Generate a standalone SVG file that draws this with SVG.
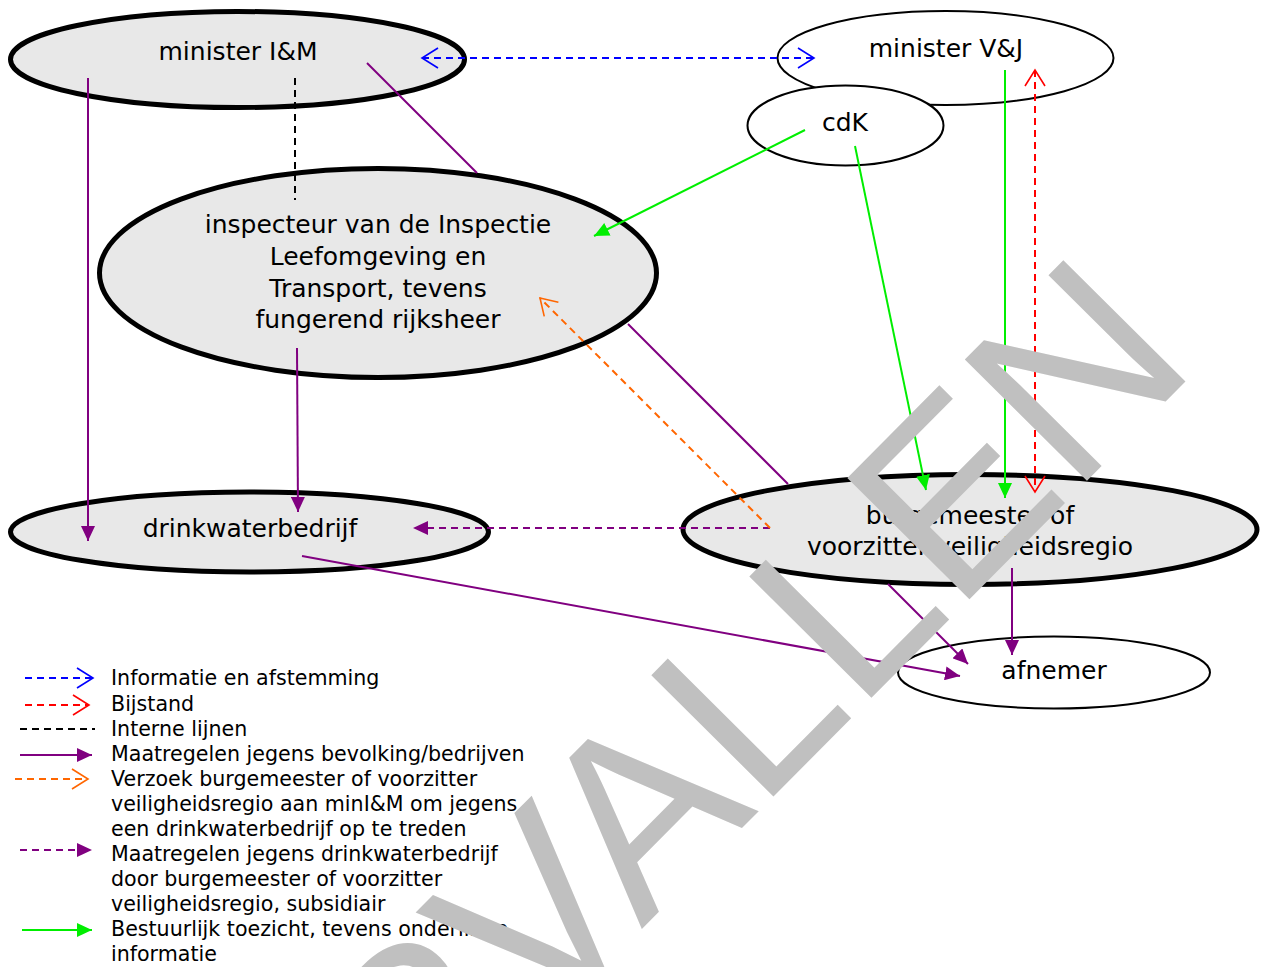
<svg xmlns="http://www.w3.org/2000/svg" width="1263" height="967" viewBox="0 0 1263 967">
<style>
.bold{fill:#e8e8e8;stroke:#000;stroke-width:5}
.thin{fill:#fff;stroke:#000;stroke-width:2}
.nt{font-family:"DejaVu Sans",Verdana,sans-serif;font-size:25px;fill:#000;text-anchor:middle}
.lt{font-family:"DejaVu Sans",Verdana,sans-serif;font-size:20.6px;fill:#000}
.c{fill:none;stroke-width:2}
.dash{stroke-dasharray:7 5}
.pur{stroke:#800080}
.grn{stroke:#00ee00}
.blu{stroke:#0000ff}
.red{stroke:#ff0000}
.org{stroke:#ff6600}
.blk{stroke:#000}
.wm{font-family:"Liberation Sans",Arial,sans-serif;font-size:250px;fill:#c0c0c0}
</style>
<defs>
<marker id="fp" markerUnits="userSpaceOnUse" markerWidth="16" markerHeight="14" refX="15" refY="7" orient="auto"><path d="M0,0 L15,7 L0,14 Z" fill="#800080"/></marker>
<marker id="fg" markerUnits="userSpaceOnUse" markerWidth="16" markerHeight="14" refX="15" refY="7" orient="auto"><path d="M0,0 L15,7 L0,14 Z" fill="#00ee00"/></marker>
<marker id="ob" markerUnits="userSpaceOnUse" markerWidth="20" markerHeight="24" refX="18" refY="12" orient="auto-start-reverse"><path d="M2,2 L18,12 L2,22" fill="none" stroke="#0000ff" stroke-width="1.6"/></marker>
<marker id="or" markerUnits="userSpaceOnUse" markerWidth="20" markerHeight="24" refX="18" refY="12" orient="auto-start-reverse"><path d="M2,2 L18,12 L2,22" fill="none" stroke="#ff0000" stroke-width="1.6"/></marker>
<marker id="oo" markerUnits="userSpaceOnUse" markerWidth="20" markerHeight="24" refX="18" refY="12" orient="auto-start-reverse"><path d="M2,2 L18,12 L2,22" fill="none" stroke="#ff6600" stroke-width="1.6"/></marker>
</defs>
<rect width="1263" height="967" fill="#fff"/>

<g id="node-minister-IM"><ellipse class="bold" cx="237.5" cy="59.5" rx="227" ry="48"/><text class="nt" x="238" y="60">minister I&amp;M</text></g>
<g id="node-minister-VJ"><ellipse class="thin" cx="945.5" cy="58" rx="168" ry="47"/><text class="nt" x="946" y="57">minister V&amp;J</text></g>
<g id="node-cdK"><ellipse class="thin" cx="845.5" cy="125.5" rx="98" ry="40"/><text class="nt" x="845" y="131">cdK</text></g>
<g id="node-inspecteur"><ellipse class="bold" cx="378" cy="273" rx="278.5" ry="104.5"/>
<text class="nt" x="378" y="233">inspecteur van de Inspectie</text>
<text class="nt" x="378" y="265">Leefomgeving en</text>
<text class="nt" x="378" y="297">Transport, tevens</text>
<text class="nt" x="378" y="328">fungerend rijksheer</text></g>
<g id="node-drinkwaterbedrijf"><ellipse class="bold" cx="249.5" cy="532" rx="239" ry="40"/><text class="nt" x="250" y="537">drinkwaterbedrijf</text></g>
<g id="node-burgemeester"><ellipse class="bold" cx="970" cy="529.5" rx="287" ry="55"/>
<text class="nt" x="970" y="524">burgemeester of</text>
<text class="nt" x="970" y="555">voorzitter veiligheidsregio</text></g>
<g id="node-afnemer"><ellipse class="thin" cx="1054" cy="672.5" rx="156" ry="36"/><text class="nt" x="1054" y="679">afnemer</text></g>

<g id="connectors">
<line class="c dash blu" x1="422" y1="58" x2="814" y2="58" marker-start="url(#ob)" marker-end="url(#ob)"/>
<line class="c dash blk" x1="295" y1="78" x2="295" y2="200"/>
<line class="c pur" x1="367" y1="63" x2="477" y2="173"/>
<line class="c pur" x1="628" y1="324" x2="788" y2="484"/>
<line class="c pur" x1="888" y1="584" x2="968" y2="664" marker-end="url(#fp)"/>
<line class="c pur" x1="88" y1="78" x2="88" y2="541" marker-end="url(#fp)"/>
<line class="c pur" x1="297" y1="348" x2="298" y2="512" marker-end="url(#fp)"/>
<line class="c pur" x1="302" y1="556" x2="960" y2="676" marker-end="url(#fp)"/>
<line class="c pur" x1="1012" y1="568" x2="1012" y2="655" marker-end="url(#fp)"/>
<line class="c dash pur" x1="770" y1="528" x2="413" y2="528" marker-end="url(#fp)"/>
<line class="c dash org" x1="770" y1="528" x2="540" y2="298" marker-end="url(#oo)"/>
<line class="c grn" x1="805" y1="130" x2="594" y2="236" marker-end="url(#fg)"/>
<line class="c grn" x1="855" y1="146" x2="926" y2="490" marker-end="url(#fg)"/>
<line class="c grn" x1="1005" y1="70" x2="1005" y2="498" marker-end="url(#fg)"/>
<line class="c dash red" x1="1035" y1="70" x2="1035" y2="492" marker-start="url(#or)" marker-end="url(#or)"/>
</g>

<g id="legend">
<line class="c dash blu" x1="25" y1="678" x2="93" y2="678" marker-end="url(#ob)"/>
<line class="c dash red" x1="25" y1="705" x2="89" y2="705" marker-end="url(#or)"/>
<line class="c dash blk" x1="20" y1="729" x2="95" y2="729"/>
<line class="c pur" x1="20" y1="755" x2="92" y2="755" marker-end="url(#fp)"/>
<line class="c dash org" x1="15" y1="779" x2="88" y2="779" marker-end="url(#oo)"/>
<line class="c dash pur" x1="20" y1="850" x2="92" y2="850" marker-end="url(#fp)"/>
<line class="c grn" x1="22" y1="930" x2="92" y2="930" marker-end="url(#fg)"/>
<text class="lt" x="111" y="685">Informatie en afstemming</text>
<text class="lt" x="111" y="711">Bijstand</text>
<text class="lt" x="111" y="736">Interne lijnen</text>
<text class="lt" x="111" y="761">Maatregelen jegens bevolking/bedrijven</text>
<text class="lt" x="111" y="786">Verzoek burgemeester of voorzitter</text>
<text class="lt" x="111" y="811">veiligheidsregio aan minI&amp;M om jegens</text>
<text class="lt" x="111" y="836">een drinkwaterbedrijf op te treden</text>
<text class="lt" x="111" y="861">Maatregelen jegens drinkwaterbedrijf</text>
<text class="lt" x="111" y="886">door burgemeester of voorzitter</text>
<text class="lt" x="111" y="911">veiligheidsregio, subsidiair</text>
<text class="lt" x="111" y="936">Bestuurlijk toezicht, tevens onderlinge</text>
<text class="lt" x="111" y="961">informatie</text>
</g>

<g id="watermark"><text class="wm" transform="translate(178,1396) rotate(-45.2)">VERVALLEN</text></g>
</svg>
